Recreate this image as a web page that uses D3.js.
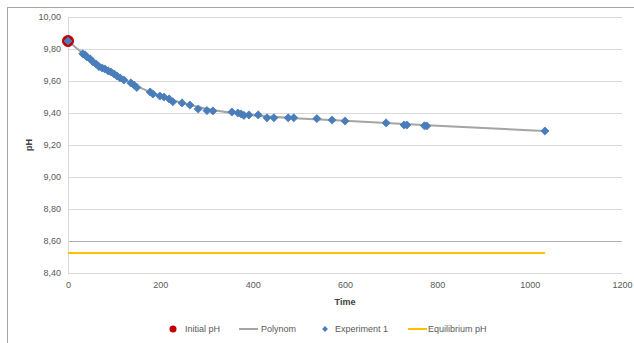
<!DOCTYPE html>
<html><head><meta charset="utf-8">
<script src="https://cdn.jsdelivr.net/npm/d3@7"></script>
<style>body{margin:0;background:#fff}svg{display:block;font-family:"Liberation Sans",Arial,sans-serif}</style>
</head><body><svg id="c" width="634" height="343"></svg>
<script>
// Data
const initialPH = [{t: 0, pH: 9.85}];
const expTime = [0,32,37,41,48,54,61,67,74,80,87,93,100,106,113,121,136,143,149,178,184,199,208,219,227,247,264,282,301,314,355,368,375,381,392,412,431,446,477,489,539,572,600,689,728,734,772,777,1033];
const expPH   = [9.85,9.77,9.763,9.75,9.738,9.72,9.706,9.69,9.681,9.675,9.663,9.656,9.644,9.631,9.619,9.606,9.588,9.575,9.56,9.531,9.519,9.506,9.50,9.488,9.47,9.463,9.45,9.425,9.415,9.413,9.406,9.40,9.394,9.385,9.388,9.388,9.37,9.37,9.37,9.37,9.365,9.356,9.35,9.338,9.325,9.325,9.32,9.319,9.2875];
const polyTime = [0,30,60,100,150,200,250,300,400,500,600,700,800,900,1033];
const polyPH   = [9.85,9.778,9.712,9.643,9.566,9.506,9.461,9.427,9.386,9.366,9.351,9.336,9.321,9.306,9.288];
const eqTime = [0, 1033];
const eqPH = [8.525, 8.525];
const xTicks = [0,200,400,600,800,1000,1200];
const yTicks = [8.4,8.6,8.8,9.0,9.2,9.4,9.6,9.8,10.0];
const legendItems = ["Initial pH","Polynom","Experiment 1","Equilibrium pH"];

const svg = d3.select("#c");
const x = d3.scaleLinear().domain([0,1200]).range([68,622]);
const y = d3.scaleLinear().domain([8.4,10.0]).range([273,17]);
const fmt = v => d3.format(".2f")(v).replace(".", ",");
const tickCol = "#595959";

// outer border
svg.append("rect").attr("x",7.5).attr("y",7.5).attr("width",640).attr("height",350)
  .attr("fill","none").attr("stroke","#a6a6a6");

// gridlines
svg.append("g").selectAll("line").data(yTicks).join("line")
  .attr("x1",68).attr("x2",622).attr("y1",d=>Math.round(y(d))+0.5).attr("y2",d=>Math.round(y(d))+0.5)
  .attr("stroke",d=>d===8.6?"#b0b0b0":"#d9d9d9").attr("stroke-width",1);
// y axis line
svg.append("line").attr("x1",68.5).attr("x2",68.5).attr("y1",17).attr("y2",273).attr("stroke","#d9d9d9");

// y axis labels
const yAxis = d3.axisLeft(y).tickValues(yTicks).tickFormat(fmt).tickSize(0).tickPadding(7);
const gy = svg.append("g").attr("transform","translate(68,0)").call(yAxis);
gy.select(".domain").remove();
gy.selectAll("text").attr("fill",tickCol).style("font-size","9px").style("font-family","Liberation Sans, Arial, sans-serif");

const xAxis = d3.axisBottom(x).tickValues(xTicks).tickFormat(d3.format("d")).tickSize(0).tickPadding(9);
const gx = svg.append("g").attr("transform","translate(0,273)").call(xAxis);
gx.select(".domain").remove();
gx.selectAll("text").attr("fill",tickCol).style("font-size","9px").style("font-family","Liberation Sans, Arial, sans-serif");

// axis titles
svg.append("text").attr("x",345).attr("y",305).attr("text-anchor","middle")
  .attr("font-size","9px").attr("font-weight","bold").attr("fill","#404040").text("Time");
svg.append("text").attr("transform","translate(32,145) rotate(-90)").attr("text-anchor","middle")
  .attr("font-size","9px").attr("font-weight","bold").attr("fill","#404040").text("pH");

// equilibrium line
const eqData = eqTime.map((t,i)=>({t, pH: eqPH[i]}));
svg.append("path").datum(eqData).attr("fill","none").attr("stroke","#ffc000").attr("stroke-width",2)
  .attr("d", d3.line().x(d=>x(d.t)).y(d=>y(d.pH)));

// polynom
const polyData = polyTime.map((t,i)=>({t, pH: polyPH[i]}));
svg.append("path").datum(polyData).attr("fill","none").attr("stroke","#a5a5a5").attr("stroke-width",2)
  .attr("d", d3.line().curve(d3.curveMonotoneX).x(d=>x(d.t)).y(d=>y(d.pH)));

// initial pH
svg.append("g").selectAll("circle").data(initialPH).join("circle")
  .attr("cx",d=>x(d.t)).attr("cy",d=>y(d.pH)).attr("r",5.5)
  .attr("fill","#c00000").attr("stroke","#c00000").attr("stroke-width",1);

// experiment 1 diamonds
const expData = expTime.map((t,i)=>({t, pH: expPH[i]}));
const diamond = d3.symbol().type(d3.symbolDiamond2).size(42);
svg.append("g").selectAll("path").data(expData).join("path")
  .attr("transform",d=>`translate(${x(d.t)},${y(d.pH)})`).attr("d",diamond)
  .attr("fill","#4a7ebb").attr("stroke","#4a7ebb").attr("stroke-width",0.8);

// legend
const ly = 329;
const lg = svg.append("g").attr("font-size","9px").attr("fill","#595959");
lg.append("circle").attr("cx",173).attr("cy",ly).attr("r",3.5).attr("fill","#c00000");
lg.append("text").attr("x",185).attr("y",ly+3).text(legendItems[0]);
lg.append("line").attr("x1",239).attr("x2",258).attr("y1",ly).attr("y2",ly).attr("stroke","#a5a5a5").attr("stroke-width",2);
lg.append("text").attr("x",261).attr("y",ly+3).text(legendItems[1]);
lg.append("path").attr("transform",`translate(325,${ly})`).attr("d",d3.symbol().type(d3.symbolDiamond2).size(22)).attr("fill","#4a7ebb");
lg.append("text").attr("x",335).attr("y",ly+3).text(legendItems[2]);
lg.append("line").attr("x1",408).attr("x2",427).attr("y1",ly).attr("y2",ly).attr("stroke","#ffc000").attr("stroke-width",2);
lg.append("text").attr("x",428).attr("y",ly+3).text(legendItems[3]);
</script></body></html>
